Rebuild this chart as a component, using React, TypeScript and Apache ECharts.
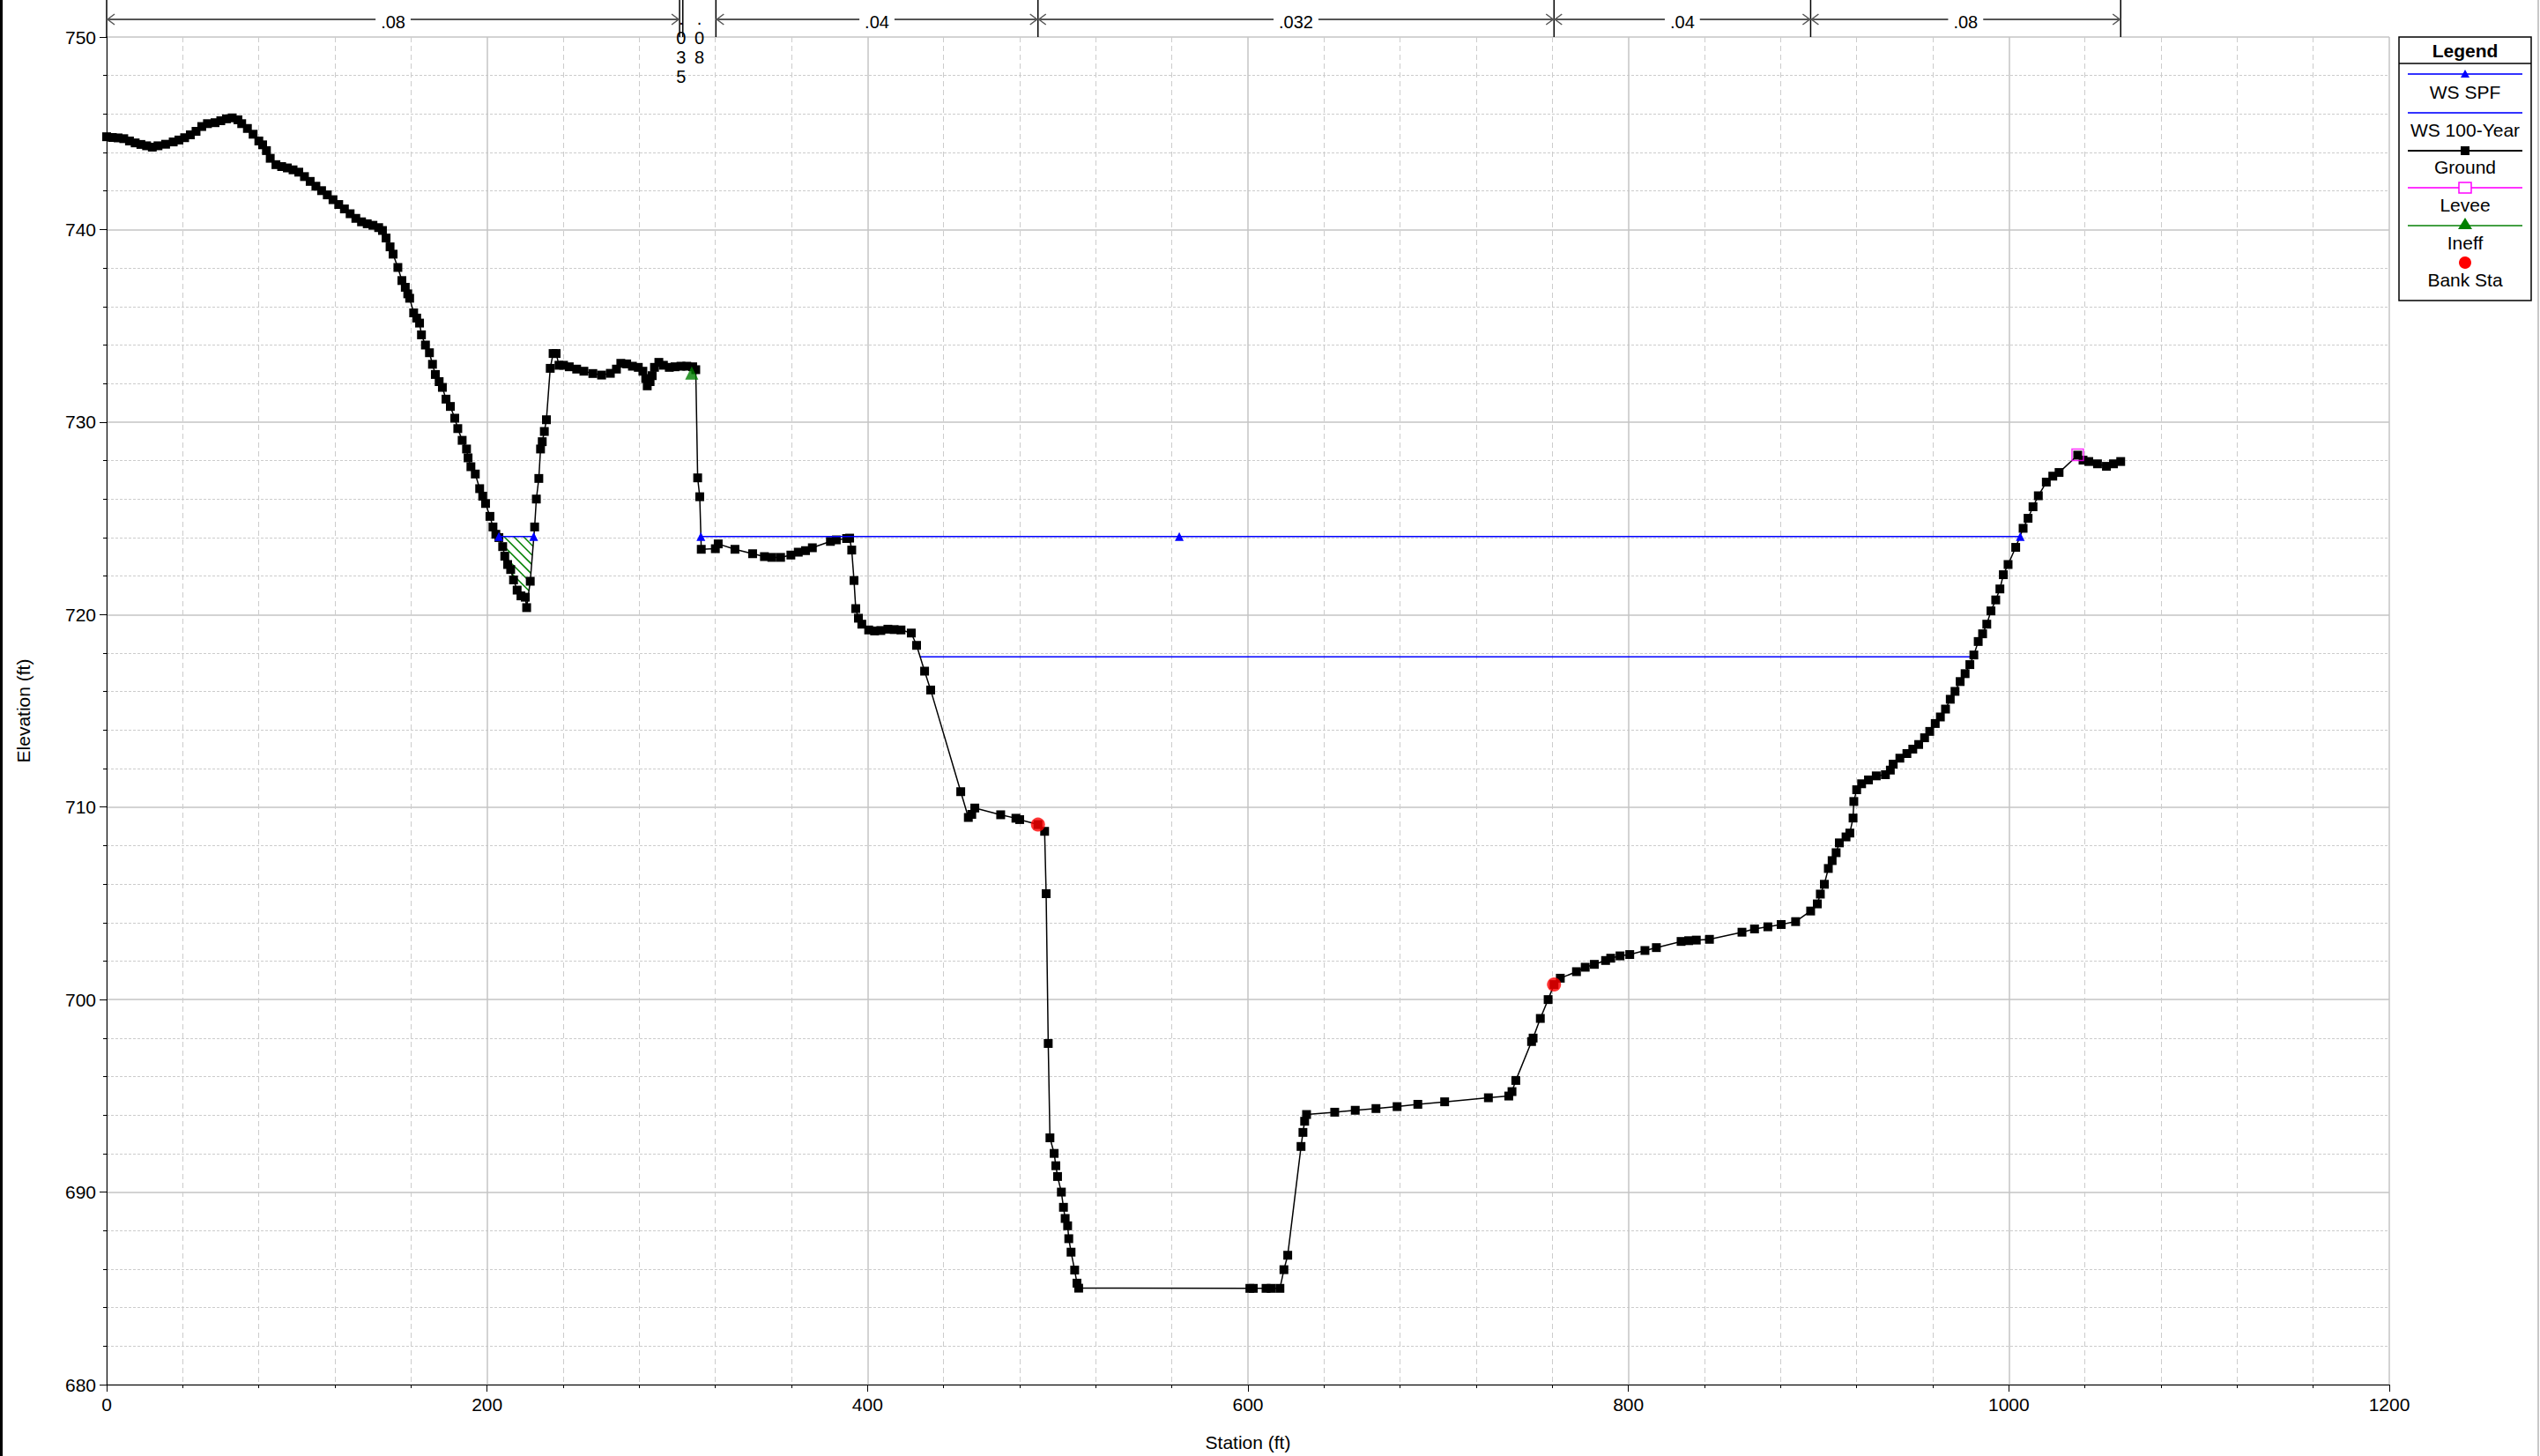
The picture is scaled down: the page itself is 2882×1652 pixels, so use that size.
import React, { useEffect, useRef } from 'react';
import * as echarts from 'echarts';

// ---------------- data ----------------
const ground: [number, number][] = [
  [0, 744.82], [3, 744.78], [6, 744.76], [9, 744.72], [12, 744.6], [15, 744.5], [18, 744.42], [21, 744.35],
  [24, 744.28], [27, 744.35], [31, 744.43], [35, 744.55], [38, 744.65], [41, 744.77], [44, 744.92], [47, 745.1],
  [50, 745.35], [53, 745.5], [57, 745.55], [60, 745.65], [63, 745.75], [66, 745.8], [69, 745.7], [71, 745.5],
  [74, 745.25], [77, 744.95], [80, 744.6], [82, 744.4], [84, 744.1], [86, 743.7], [89, 743.37], [92, 743.27],
  [95, 743.2], [98, 743.1], [101, 742.98], [104, 742.75], [107, 742.5], [110, 742.25], [113, 742.02], [116, 741.8],
  [119, 741.55], [122, 741.3], [125, 741.07], [128, 740.82], [131, 740.58], [134, 740.4], [137, 740.3], [140, 740.22],
  [143, 740.1], [145, 739.95], [146.9, 739.56], [149, 739.1], [150.6, 738.72], [153.1, 738.03], [155.2, 737.35],
  [157, 737.0], [158.3, 736.66], [159.3, 736.43], [161.4, 735.67], [163, 735.4], [164.5, 735.14], [165.5, 734.53],
  [167.6, 734.0], [169.7, 733.6], [171.3, 733.0], [172.8, 732.47], [174.8, 732.1], [176.5, 731.8], [178.4, 731.19],
  [180.7, 730.81], [183, 730.2], [184.6, 729.66], [186.9, 729.05], [189.2, 728.6], [190, 728.14], [191.5, 727.68],
  [193.8, 727.3], [196.1, 726.54], [197.7, 726.15], [199.2, 725.77], [201.5, 725.1], [203.1, 724.55], [204.6, 724.17],
  [206.2, 724.0], [208.2, 723.53], [209.3, 723.03], [210.8, 722.6], [212.4, 722.34], [213.9, 721.8], [215.8, 721.27],
  [217.8, 720.97], [220.1, 720.9], [220.8, 720.36], [222.7, 721.73], [225, 724.55], [225.9, 726.0], [227.2, 727.07],
  [228.1, 728.6], [229, 728.98], [230.1, 729.51], [231.2, 730.12], [233.2, 732.79], [234.7, 733.56], [236.3, 733.56],
  [237.8, 732.95], [240.2, 732.95], [243.2, 732.87], [247.1, 732.75], [250.9, 732.64], [255.6, 732.52], [260.2, 732.44],
  [264.8, 732.53], [268, 732.75], [270.3, 733.05], [273.4, 733.02], [276.4, 732.9], [279.5, 732.84], [281.9, 732.64],
  [283.4, 732.26], [284.2, 731.88], [285.7, 732.1], [286.8, 732.41], [288, 732.84], [290.3, 733.1], [292.7, 732.95],
  [295.8, 732.84], [298.8, 732.87], [301.9, 732.9], [305, 732.9], [308.1, 732.87], [309.7, 732.72],
  [310.7, 727.1], [311.8, 726.12], [312.6, 723.39], [320, 723.42], [321.5, 723.67], [330.3, 723.39], [339.6, 723.16],
  [345.8, 723.01], [349.7, 722.97], [354.3, 722.97], [359.7, 723.09], [363.6, 723.24], [367.4, 723.32], [371, 723.47],
  [380.5, 723.8], [383.6, 723.88], [389, 723.95], [390.6, 723.97], [391.7, 723.35], [392.9, 721.77], [393.8, 720.31],
  [395.2, 719.81], [397, 719.5], [400.6, 719.2], [403.7, 719.15], [407, 719.17], [410.7, 719.24], [414, 719.22],
  [417.6, 719.2], [423, 719.04], [425.8, 718.4], [430, 717.06], [433.2, 716.08], [449, 710.8], [453, 709.46],
  [454.8, 709.62], [456.4, 709.95], [470, 709.6], [478, 709.42], [480, 709.35], [489.6, 709.09], [493.1, 708.74],
  [493.9, 705.5], [495, 697.72], [495.9, 692.82], [498.1, 692.01], [499, 691.37], [499.9, 690.81], [501.9, 690.0],
  [503, 689.21], [503.9, 688.63], [505.2, 688.25], [505.8, 687.58], [507, 686.88], [508.9, 685.95], [510.1, 685.27],
  [511, 685.01], [601, 685.0], [602.8, 685.0], [609.5, 685.0], [612.2, 685.0], [616.8, 685.0], [618.9, 685.97],
  [620.9, 686.72], [627.9, 692.37], [628.9, 693.1], [629.8, 693.68], [630.8, 694.03], [645.6, 694.15], [656.4, 694.25],
  [667.3, 694.34], [678.4, 694.44], [689.3, 694.56], [703.4, 694.69], [726.4, 694.9], [737.1, 694.99], [738.8, 695.22],
  [740.8, 695.8], [749.1, 697.82], [749.9, 698.0], [753.7, 699.02], [757.8, 700.0], [760.9, 700.78], [764.2, 701.11],
  [772.7, 701.45], [777.3, 701.68], [782.1, 701.83], [788, 702.03], [790.7, 702.15], [795.6, 702.27], [800.7, 702.34],
  [808.7, 702.55], [814.7, 702.7], [827.7, 703.02], [831.7, 703.06], [835.7, 703.09], [842.6, 703.13], [859.7, 703.5],
  [866.3, 703.67], [873.3, 703.78], [880.3, 703.9], [887.9, 704.05], [895.8, 704.6], [899.3, 704.97], [900.9, 705.48],
  [903, 705.99], [905.1, 706.81], [907.1, 707.22], [909.2, 707.63], [910.9, 708.14], [914.4, 708.45], [916.4, 708.65],
  [918.1, 709.43], [918.5, 710.29], [920, 710.9], [922.6, 711.21], [926.2, 711.41], [930.3, 711.62], [935.1, 711.68],
  [937.7, 711.92], [939.2, 712.23], [942.7, 712.54], [946.4, 712.78], [949.5, 713.01], [952.6, 713.25], [955.7, 713.6],
  [958.4, 713.93], [961.3, 714.34], [964, 714.68], [966.7, 715.09], [969.2, 715.6], [971.7, 716.01], [974.4, 716.52],
  [977, 716.93], [979.5, 717.4], [981.6, 717.9], [983.9, 718.6], [986.2, 719.0], [988.4, 719.5], [990.6, 720.19],
  [993.1, 720.76], [995.3, 721.33], [997.1, 722.07], [999.6, 722.6], [1003.6, 723.49], [1007.5, 724.48], [1010.1, 725.0],
  [1012.7, 725.6], [1015.5, 726.17], [1019.7, 726.88], [1023.1, 727.19], [1026.4, 727.38], [1036.2, 728.28],
  [1039, 728.02], [1042, 727.95], [1046.6, 727.83], [1051.3, 727.7], [1055, 727.83], [1058.8, 727.95],
];

const wsSpfElev = 724.05;
const wsSpfLeftStations = [206.2, 224.5];
const wsSpfRightStations = [312.4, 563.9, 1006.0];
const ws100Elev = 717.8;
const ws100Stations = [427.7, 981.6];
const bankSta: [number, number][] = [[489.6, 709.09], [760.9, 700.78]];
const levee: [number, number][] = [[1036.2, 728.3]];
const ineff: [number, number][] = [[307.6, 732.55]];
const ineffHatchRange = [206.2, 224.5];

const nBounds = [0, 301.2, 302.9, 320.3, 489.6, 760.9, 895.8, 1058.8];
const nValues = ['.08', '.035', '.08', '.04', '.032', '.04', '.08'];

const legendLabels = ['WS SPF', 'WS 100-Year', 'Ground', 'Levee', 'Ineff', 'Bank Sta'];

const xMin = 0, xMax = 1200, xInterval = 200;
const yMin = 680, yMax = 750, yInterval = 10;

const FONT = 'Liberation Sans, Arial, sans-serif';

export default function App() {
  const ref = useRef<HTMLDivElement>(null);

  useEffect(() => {
    const chart = echarts.init(ref.current!, null, { renderer: 'svg' });

    const hatchPoly: [number, number][] = [
      [ineffHatchRange[0], wsSpfElev],
      [ineffHatchRange[1], wsSpfElev],
      ...ground.filter(p => p[0] > ineffHatchRange[0] && p[0] < ineffHatchRange[1]).slice().reverse(),
    ];

    const axisCommon = {
      type: 'value' as const,
      axisLine: { show: true, onZero: false, lineStyle: { color: '#000', width: 1 } },
      axisTick: { show: true, length: 8, lineStyle: { color: '#000', width: 1 } },
      minorTick: { show: true, splitNumber: 5, length: 4, lineStyle: { color: '#000', width: 1 } },
      axisLabel: {
        fontSize: 21, color: '#000', margin: 12, fontFamily: FONT,
        formatter: (v: number) => String(v),
      },
      splitLine: { show: true, lineStyle: { color: '#c4c4c4', width: 1.5 } },
    };

    chart.setOption({
      animation: false,
      backgroundColor: '#fff',
      grid: { left: 121, right: 171, top: 42, bottom: 81, containLabel: false },
      xAxis: {
        ...axisCommon,
        min: xMin, max: xMax, interval: xInterval,
        minorSplitLine: { show: true, lineStyle: { color: '#cccccc', width: 1, type: [6, 4] } },
      },
      yAxis: {
        ...axisCommon,
        min: yMin, max: yMax, interval: yInterval,
        minorSplitLine: { show: true, lineStyle: { color: '#cccccc', width: 1, type: [3, 2] } },
      },
      series: [
        {
          name: 'IneffHatch',
          type: 'custom',
          z: 1,
          silent: true,
          data: [[ineffHatchRange[0], wsSpfElev]],
          renderItem: (params: any, api: any) => {
            const pts = hatchPoly.map(p => api.coord(p));
            const step = 11;
            let minC = Infinity, maxC = -Infinity;
            pts.forEach(([x, y]: number[]) => {
              const c = y - x;
              if (c < minC) minC = c;
              if (c > maxC) maxC = c;
            });
            const children: any[] = [];
            for (let c = Math.ceil(minC / step) * step + 4; c <= maxC; c += step) {
              const xs: number[] = [];
              for (let i = 0; i < pts.length; i++) {
                const p1 = pts[i], p2 = pts[(i + 1) % pts.length];
                const f1 = p1[1] - p1[0] - c, f2 = p2[1] - p2[0] - c;
                if ((f1 < 0) !== (f2 < 0)) {
                  const t = f1 / (f1 - f2);
                  xs.push(p1[0] + t * (p2[0] - p1[0]));
                }
              }
              xs.sort((a, b) => a - b);
              for (let k = 0; k + 1 < xs.length; k += 2) {
                children.push({
                  type: 'line',
                  shape: { x1: xs[k], y1: xs[k] + c, x2: xs[k + 1], y2: xs[k + 1] + c },
                  style: { stroke: '#008000', lineWidth: 1.5 },
                });
              }
            }
            return { type: 'group', children };
          },
        },
        {
          name: 'WS 100-Year',
          type: 'line',
          z: 2,
          data: ws100Stations.map(s => [s, ws100Elev]),
          symbol: 'none',
          lineStyle: { color: '#0000ff', width: 1.5 },
          itemStyle: { color: '#0000ff' },
        },
        {
          name: 'Ground',
          type: 'line',
          z: 3,
          data: ground,
          symbol: 'rect',
          symbolSize: 10,
          lineStyle: { color: '#000', width: 1.5 },
          itemStyle: { color: '#000' },
        },
        {
          name: 'WS SPF',
          type: 'line',
          z: 4,
          data: wsSpfLeftStations.map(s => [s, wsSpfElev]),
          symbol: 'triangle',
          symbolSize: 10,
          lineStyle: { color: '#0000ff', width: 1.5 },
          itemStyle: { color: '#0000ff' },
        },
        {
          name: 'WS SPF',
          type: 'line',
          z: 4,
          data: wsSpfRightStations.map(s => [s, wsSpfElev]),
          symbol: 'triangle',
          symbolSize: 10,
          lineStyle: { color: '#0000ff', width: 1.5 },
          itemStyle: { color: '#0000ff' },
        },
        {
          name: 'Ineff',
          type: 'scatter',
          z: 5,
          data: ineff,
          symbol: 'triangle',
          symbolSize: 15,
          itemStyle: { color: '#008000' },
        },
        {
          name: 'Levee',
          type: 'scatter',
          z: 5,
          data: levee,
          symbol: 'rect',
          symbolSize: 13,
          itemStyle: { color: 'rgba(0,0,0,0)', borderColor: '#ff00ff', borderWidth: 1.5 },
        },
        {
          name: 'Bank Sta',
          type: 'scatter',
          z: 5,
          data: bankSta,
          symbol: 'circle',
          symbolSize: 16,
          itemStyle: { color: '#ff0000' },
        },
      ],
    });

    // ---------- graphics: n-values, legend, titles, frame ----------
    const px = nBounds.map(s => chart.convertToPixel({ xAxisIndex: 0 }, s) as number);
    const plotTop = chart.convertToPixel({ yAxisIndex: 0 }, yMax) as number;
    const plotBottom = chart.convertToPixel({ yAxisIndex: 0 }, yMin) as number;
    const plotLeft = chart.convertToPixel({ xAxisIndex: 0 }, xMin) as number;
    const plotRight = chart.convertToPixel({ xAxisIndex: 0 }, xMax) as number;

    const els: any[] = [];
    const arrowY = 22;
    const arrowColor = '#555';

    px.forEach(x => {
      els.push({
        type: 'line', shape: { x1: x, y1: 0, x2: x, y2: plotTop },
        style: { stroke: '#000', lineWidth: 1.5 }, z: 10,
      });
    });

    for (let i = 0; i < nValues.length; i++) {
      const xa = px[i], xb = px[i + 1];
      const w = xb - xa;
      const cx = (xa + xb) / 2;
      const label = nValues[i];
      if (w < 50) {
        els.push({
          type: 'text', x: cx, y: 10, z: 11,
          style: {
            text: label.split('').join('\n'), fontSize: 20, fontFamily: FONT, fill: '#000',
            align: 'center', verticalAlign: 'top', lineHeight: 22,
          },
        });
      } else {
        const tw = label.split('').reduce((a, ch) => a + (ch === '.' ? 5.6 : 11.1), 0);
        const gap = 6;
        els.push({
          type: 'text', x: cx, y: 25, z: 11,
          style: {
            text: label, fontSize: 20, fontFamily: FONT, fill: '#000',
            align: 'center', verticalAlign: 'middle',
          },
        });
        els.push({
          type: 'line', shape: { x1: xa, y1: arrowY, x2: cx - tw / 2 - gap, y2: arrowY },
          style: { stroke: arrowColor, lineWidth: 2 }, z: 10,
        });
        els.push({
          type: 'line', shape: { x1: cx + tw / 2 + gap, y1: arrowY, x2: xb, y2: arrowY },
          style: { stroke: arrowColor, lineWidth: 2 }, z: 10,
        });
        els.push({
          type: 'polyline', shape: { points: [[xa + 9, arrowY - 6], [xa + 1, arrowY], [xa + 9, arrowY + 6]] },
          style: { stroke: arrowColor, lineWidth: 1.5, fill: 'none' }, z: 10,
        });
        els.push({
          type: 'polyline', shape: { points: [[xb - 9, arrowY - 6], [xb - 1, arrowY], [xb - 9, arrowY + 6]] },
          style: { stroke: arrowColor, lineWidth: 1.5, fill: 'none' }, z: 10,
        });
      }
    }

    // axis titles
    els.push({
      type: 'text', x: (plotLeft + plotRight) / 2, y: 1636, z: 10,
      style: { text: 'Station (ft)', fontSize: 21, fontFamily: FONT, fill: '#000', align: 'center', verticalAlign: 'middle' },
    });
    els.push({
      type: 'text', x: 26, y: (plotTop + plotBottom) / 2, rotation: Math.PI / 2, z: 10,
      style: { text: 'Elevation (ft)', fontSize: 21, fontFamily: FONT, fill: '#000', align: 'center', verticalAlign: 'middle' },
    });

    // frame lines
    els.push({ type: 'rect', shape: { x: 0, y: 0, width: 3, height: 1652 }, style: { fill: '#000' }, z: 10 });
    els.push({ type: 'rect', shape: { x: 2879, y: 0, width: 2, height: 1652 }, style: { fill: '#c8c8c8' }, z: 10 });

    // legend
    const lbx = 2722, lby = 42, lbw = 150, lbh = 299;
    const lx1 = 2732, lx2 = 2862, lcx = 2797;
    els.push({ type: 'rect', shape: { x: lbx, y: lby, width: lbw, height: lbh }, style: { fill: '#fff', stroke: '#000', lineWidth: 1.5 }, z: 20 });
    els.push({
      type: 'text', x: lcx, y: 57, z: 21,
      style: { text: 'Legend', fontSize: 21, fontWeight: 'bold', fontFamily: FONT, fill: '#000', align: 'center', verticalAlign: 'middle' },
    });
    els.push({ type: 'line', shape: { x1: lbx, y1: 72, x2: lbx + lbw, y2: 72 }, style: { stroke: '#000', lineWidth: 1.5 }, z: 21 });

    const symY = [84, 128, 171, 213, 256, 298];
    const txtY = [104, 147, 189, 232, 275, 317];
    const lineColors = ['#3333ff', '#3333ff', '#000', '#ff33ff', '#44a044', null];
    lineColors.forEach((c, i) => {
      if (c) {
        els.push({ type: 'line', shape: { x1: lx1, y1: symY[i], x2: lx2, y2: symY[i] }, style: { stroke: c, lineWidth: 2 }, z: 21 });
      }
    });
    // symbols
    els.push({ type: 'polygon', shape: { points: [[lcx, symY[0] - 5], [lcx - 5, symY[0] + 4], [lcx + 5, symY[0] + 4]] }, style: { fill: '#0000ff' }, z: 22 });
    els.push({ type: 'rect', shape: { x: lcx - 5, y: symY[2] - 5, width: 10, height: 10 }, style: { fill: '#000' }, z: 22 });
    els.push({ type: 'rect', shape: { x: lcx - 7, y: symY[3] - 6, width: 14, height: 12 }, style: { fill: '#fff', stroke: '#ff00ff', lineWidth: 1.5 }, z: 22 });
    els.push({ type: 'polygon', shape: { points: [[lcx, symY[4] - 9], [lcx - 8, symY[4] + 4], [lcx + 8, symY[4] + 4]] }, style: { fill: '#008000' }, z: 22 });
    els.push({ type: 'circle', shape: { cx: lcx, cy: symY[5], r: 7 }, style: { fill: '#ff0000' }, z: 22 });

    legendLabels.forEach((t, i) => {
      els.push({
        type: 'text', x: lcx, y: txtY[i], z: 22,
        style: { text: t, fontSize: 21, fontFamily: FONT, fill: '#000', align: 'center', verticalAlign: 'middle' },
      });
    });

    chart.setOption({ graphic: { elements: els } });

    return () => chart.dispose();
  }, []);

  return (
    <div
      ref={ref}
      style={{ position: 'fixed', left: 0, top: 0, width: 2882, height: 1652, background: '#fff' }}
    />
  );
}
